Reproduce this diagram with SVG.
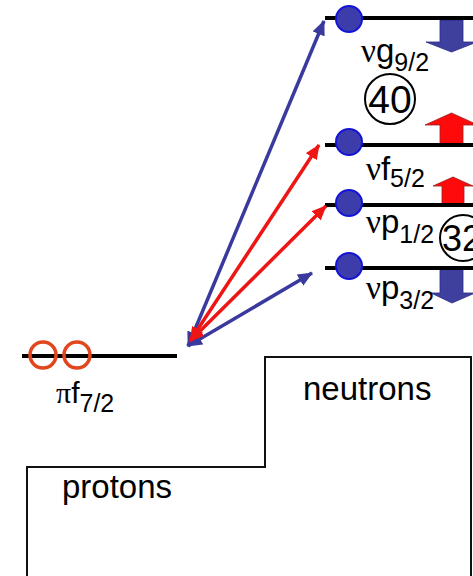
<svg xmlns="http://www.w3.org/2000/svg" width="473" height="576" viewBox="0 0 473 576">
<style>
.lvl{stroke:#000;stroke-width:4;fill:none}
.dot{fill:#3c3cab;stroke:#1414d8;stroke-width:2}
.pc{fill:none;stroke:#e2461c;stroke-width:3.5}
.lbl{font-family:"Liberation Sans",Arial,sans-serif;font-size:33px;fill:#000}
.gr{font-family:"Liberation Serif","Times New Roman",serif}
.sub{font-size:25px}
.num{font-family:"Liberation Sans",Arial,sans-serif;font-size:39px;fill:#000;text-anchor:middle}
.ring{fill:#fff;stroke:#000;stroke-width:2}
.bdn{fill:#3f3fa0;stroke:#2a2a80;stroke-width:0.8}
.rup{fill:#ff0a0a;stroke:#9a2020;stroke-width:0.8}
.cb{stroke:#3a3a9e;stroke-width:3.5;fill:none}
.cr{stroke:#ee1515;stroke-width:3.5;fill:none}
.box{fill:none;stroke:#111;stroke-width:2}
</style>
<defs>
<marker id="hb" markerUnits="userSpaceOnUse" markerWidth="15" markerHeight="13" viewBox="0 0 15 13" refX="14" refY="6.5" orient="auto-start-reverse"><path d="M0,0 L15,6.5 L0,13 z" fill="#3a3a9e"/></marker>
<marker id="hr" markerUnits="userSpaceOnUse" markerWidth="15" markerHeight="13" viewBox="0 0 15 13" refX="14" refY="6.5" orient="auto-start-reverse"><path d="M0,0 L15,6.5 L0,13 z" fill="#ee1515"/></marker>
</defs>
<rect width="473" height="576" fill="#fff"/>

<g id="boxes">
<path class="box" d="M27,576 V467 H265 V357 H471 V576"/>
<text class="lbl" x="303" y="400">neutrons</text>
<text class="lbl" x="62" y="498">protons</text>
</g>

<g id="spin-arrows">
<polygon class="bdn" points="440,20 463,20 463,42 477,42 451.5,52 426,42 440,42"/>
<polygon class="rup" points="440,145 440,125 425,125 451.5,113 478,125 463,125 463,145"/>
<polygon class="rup" points="442,205 442,186 433,186 453,177 473,186 464,186 464,205"/>
<polygon class="bdn" points="440,268 463,268 463,293 475,293 452,303 431,293 440,293"/>
</g>

<g id="g92">
<line class="lvl" x1="325" y1="18" x2="473" y2="18"/>
<circle class="dot" cx="349" cy="19" r="13"/>
<text class="lbl" x="361" y="62"><tspan class="gr">ν</tspan>g<tspan class="sub" dy="9">9/2</tspan></text>
</g>

<g id="n40">
<circle class="ring" cx="390" cy="99" r="25"/>
<text class="num" x="390" y="113">40</text>
</g>

<g id="f52">
<line class="lvl" x1="325" y1="145" x2="473" y2="145"/>
<circle class="dot" cx="349" cy="142" r="13"/>
<text class="lbl" x="366" y="180"><tspan class="gr">ν</tspan>f<tspan class="sub" dy="7">5/2</tspan></text>
</g>

<g id="p12">
<line class="lvl" x1="325" y1="205" x2="473" y2="205"/>
<circle class="dot" cx="349" cy="203" r="13"/>
<text class="lbl" x="366" y="233"><tspan class="gr">ν</tspan>p<tspan class="sub" dy="10">1/2</tspan></text>
</g>

<g id="n32">
<circle class="ring" cx="463" cy="238" r="23"/>
<text class="num" x="462" y="251" style="font-size:36px">32</text>
</g>

<g id="p32">
<line class="lvl" x1="325" y1="268" x2="473" y2="268"/>
<circle class="dot" cx="349" cy="266" r="13"/>
<text class="lbl" x="366" y="299"><tspan class="gr">ν</tspan>p<tspan class="sub" dy="10">3/2</tspan></text>
</g>

<g id="pf72">
<line class="lvl" x1="22" y1="356" x2="177" y2="356"/>
<circle class="pc" cx="43" cy="355" r="13"/>
<circle class="pc" cx="77" cy="355" r="13"/>
<text class="lbl" x="56" y="403" style="font-size:30px"><tspan class="gr">π</tspan>f<tspan class="sub" dy="9">7/2</tspan></text>
</g>

<g id="connectors">
<line class="cb" x1="188" y1="346" x2="324" y2="21" marker-start="url(#hb)" marker-end="url(#hb)"/>
<line class="cb" x1="188" y1="346" x2="312" y2="273" marker-start="url(#hb)" marker-end="url(#hb)"/>
<line class="cr" x1="190" y1="341" x2="319" y2="145" marker-start="url(#hr)" marker-end="url(#hr)"/>
<line class="cr" x1="190" y1="341" x2="326" y2="206" marker-start="url(#hr)" marker-end="url(#hr)"/>
</g>
</svg>
